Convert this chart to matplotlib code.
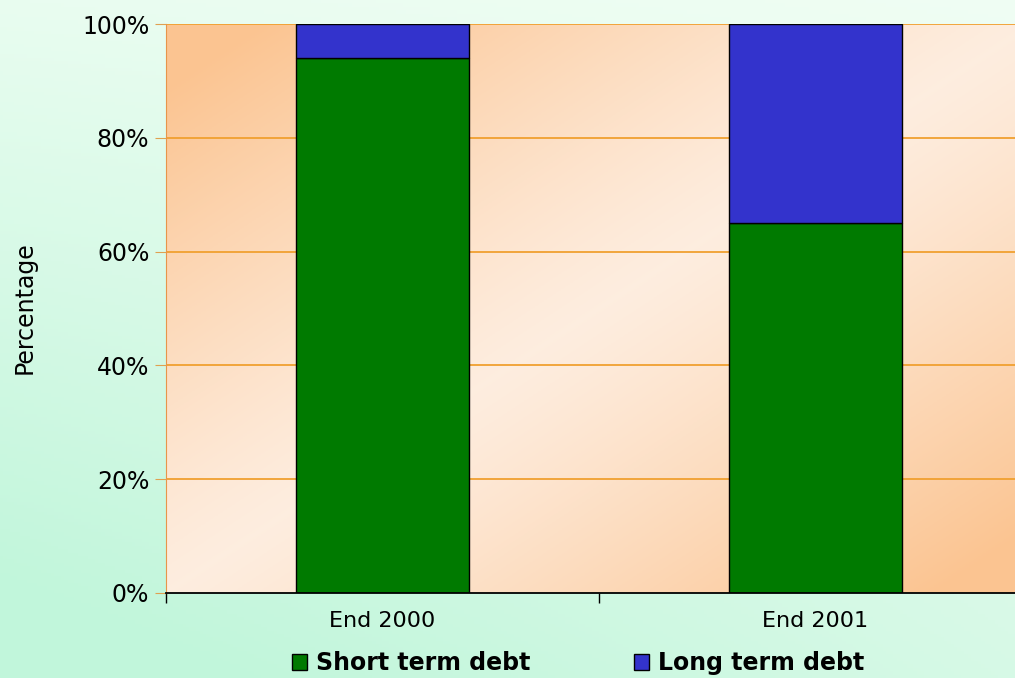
import numpy as np
import matplotlib
matplotlib.use("Agg")
import matplotlib.pyplot as plt
from matplotlib.patches import Patch

categories = ["End 2000", "End 2001"]
short_term = [94, 65]
long_term = [6, 35]
y_ticks = [0, 20, 40, 60, 80, 100]
y_tick_labels = ["0%", "20%", "40%", "60%", "80%", "100%"]

green = "#007a00"
blue = "#3333cc"

fig = plt.figure(figsize=(10.15, 6.78), dpi=100)

# mint backdrop behind everything
bg = fig.add_axes([0, 0, 1, 1], zorder=-10)
h, w = 200, 300
yy, xx = np.mgrid[0:1:h * 1j, 0:1:w * 1j]
s = np.clip(0.55 * yy + 0.45 * (1 - xx) * yy + 0.15 * (1 - xx), 0, 1)
top = np.array([0.94, 0.995, 0.955])
low = np.array([0.76, 0.965, 0.86])
bg_img = top[None, None, :] * (1 - s[..., None]) + low[None, None, :] * s[..., None]
bg.imshow(bg_img, extent=[0, 1, 0, 1], origin="upper", aspect="auto")
bg.set_axis_off()

# plot area runs a little past the right edge of the figure
ax = fig.add_axes([166 / 1015, 1 - 593 / 678, 866 / 1015, 569 / 678])

# peach fill: deeper orange at top-left and bottom-right corners
u, v = np.meshgrid(np.linspace(0, 1, 300), np.linspace(0, 1, 200))
t = np.clip(np.abs(u + v - 1.0) ** 1.2 * 1.15, 0, 1)
light = np.array([0.995, 0.93, 0.875])
deep = np.array([0.985, 0.77, 0.57])
pa_img = light[None, None, :] * (1 - t[..., None]) + deep[None, None, :] * t[..., None]
ax.imshow(pa_img, extent=[0, 2, 0, 100], origin="upper", aspect="auto", zorder=0)
ax.set_xlim(0, 2)
ax.set_ylim(0, 100)

for yv in y_ticks[1:]:
    ax.axhline(yv, color="#f0a030", lw=1.3, zorder=1)

x = np.arange(len(categories)) + 0.5
ax.bar(x, short_term, width=0.4, color=green, edgecolor="black", lw=1, zorder=2)
ax.bar(x, long_term, width=0.4, bottom=short_term, color=blue, edgecolor="black", lw=1, zorder=2)

ax.set_yticks(y_ticks)
ax.set_yticklabels(y_tick_labels, fontsize=17)
ax.set_xticks(x)
ax.set_xticklabels(categories, fontsize=16)
ax.tick_params(axis="x", length=0, pad=13)
ax.tick_params(axis="y", length=8, color="#e0a050", pad=4)
ax.set_xticks([0, 1, 2], minor=True)
ax.tick_params(axis="x", which="minor", length=7, color="black", width=1)

for side in ["top", "right"]:
    ax.spines[side].set_visible(False)
ax.spines["left"].set_color("#e8954a")
ax.spines["bottom"].set_color("black")
ax.spines["bottom"].set_linewidth(1.3)

fig.text(25 / 1015, 1 - 308 / 678, "Percentage", rotation=90, fontsize=17,
         ha="center", va="center")

handles = [Patch(facecolor=green, edgecolor="black", label="Short term debt"),
           Patch(facecolor=blue, edgecolor="black", label="Long term debt")]
fig.legend(handles=handles, loc="center", bbox_to_anchor=(578 / 1015, 1 - 663 / 678),
           ncol=2, frameon=False, prop={"weight": "bold", "size": 17},
           handlelength=0.65, handleheight=0.65, handletextpad=0.35, columnspacing=4.4)

fig.savefig("out.png", dpi=100)
